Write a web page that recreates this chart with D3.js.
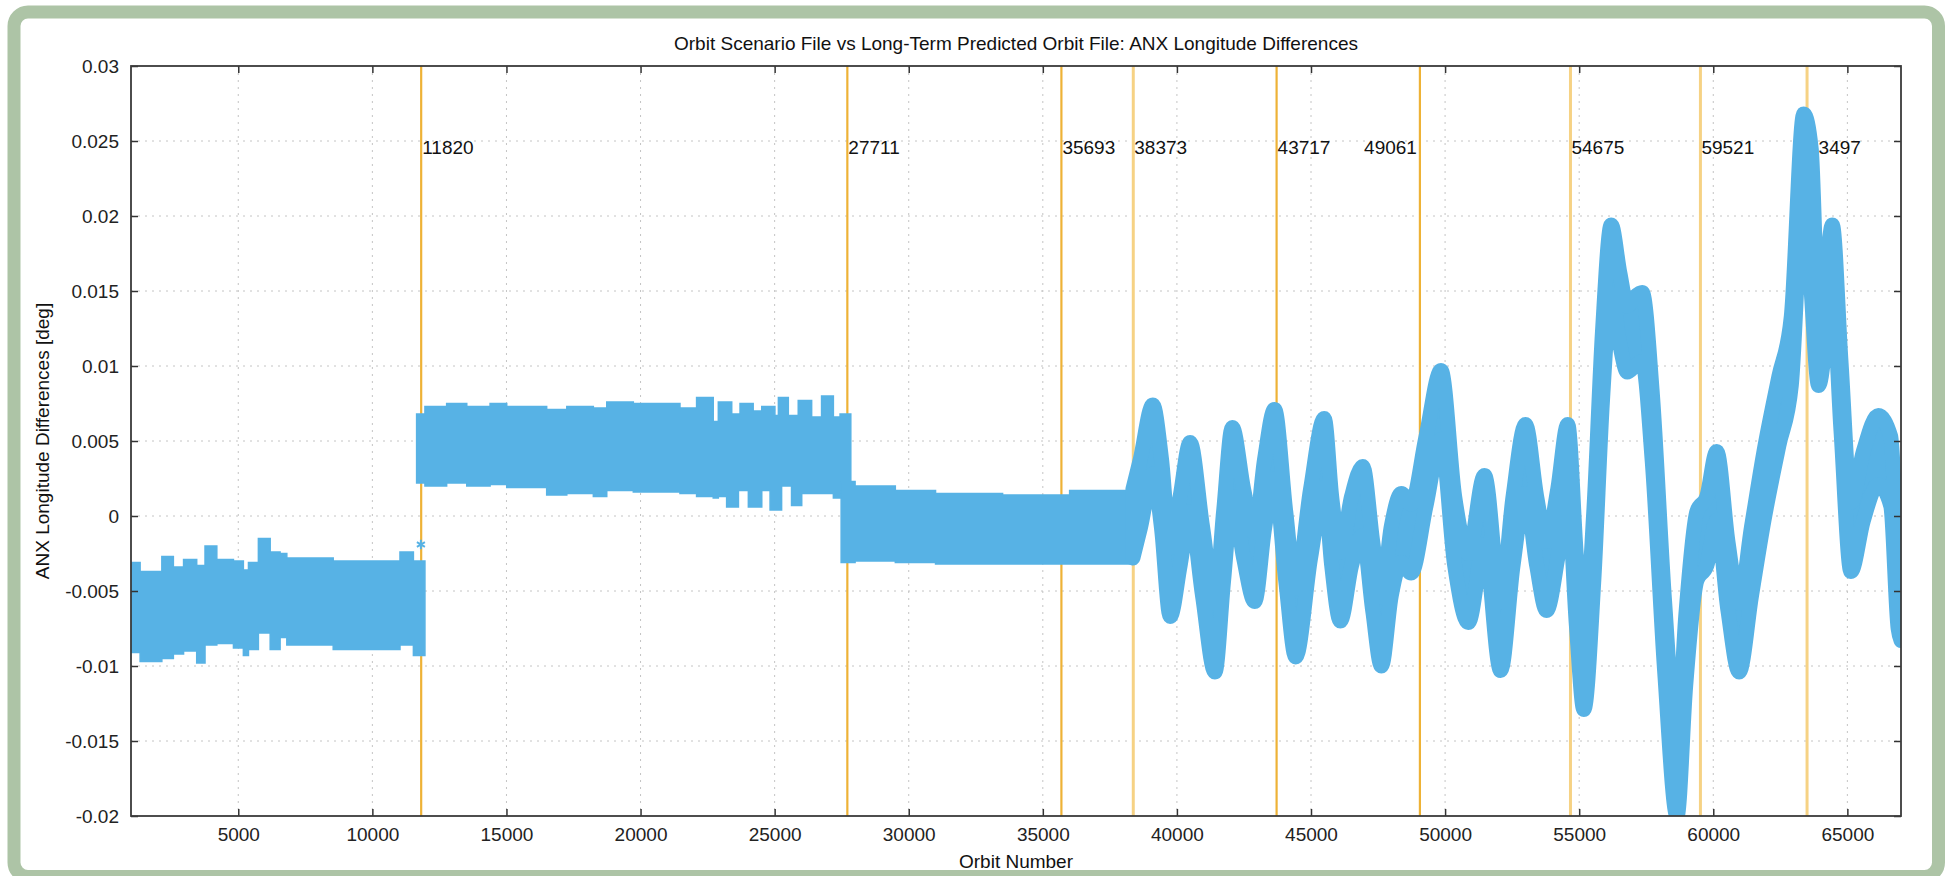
<!DOCTYPE html>
<html>
<head>
<meta charset="utf-8">
<script src="https://cdn.jsdelivr.net/npm/d3@7"></script>
<style>
  body { margin: 0; background: #fff; }
  svg { display: block; font-family: "Liberation Sans", Arial, Helvetica, sans-serif; }
</style>
</head>
<body>
<div id="chart"></div>
<script>
const width = 1948, height = 876;
const margin = { left: 131, right: 47, top: 66, bottom: 60 };

// axis ticks
const xTicks = [5000, 10000, 15000, 20000, 25000, 30000, 35000, 40000, 45000, 50000, 55000, 60000, 65000];
const yTicks = [-0.02, -0.015, -0.01, -0.005, 0, 0.005, 0.01, 0.015, 0.02, 0.025, 0.03];

// event lines (orbit numbers) and their labels
const eventOrbits = [11820, 27711, 35693, 38373, 43717, 49061, 54675, 59521, 63497];
const eventLabels = ['11820', '27711', '35693', '38373', '43717', '49061', '54675', '59521', '63497'];

// band envelope, first period (step edges)
const orbit1 = [1000, 1340, 2150, 2580, 2960, 3450, 3760, 4200, 4820, 5190, 5380, 5750, 6190, 6560, 6810, 8540, 11030, 11530, 11960];
const upper1 = [-0.0031, -0.0037, -0.0027, -0.0034, -0.0029, -0.0033, -0.0020, -0.0029, -0.0030, -0.0036, -0.0031, -0.0015, -0.0024, -0.0025, -0.0028, -0.0030, -0.0024, -0.0030, -0.0030];
const lower1 = [-0.0091, -0.0097, -0.0095, -0.0092, -0.0090, -0.0098, -0.0086, -0.0085, -0.0088, -0.0093, -0.0089, -0.0078, -0.0089, -0.0081, -0.0086, -0.0089, -0.0086, -0.0093, -0.0093];

// second period
const orbit2 = [11650, 11960, 12770, 13520, 14390, 15010, 16500, 17250, 18240, 18740, 19730, 21470, 22090, 22710, 22900, 23210, 23400, 23650, 23710, 24020, 24200, 24520, 24830, 25010, 25140, 25260, 25510, 25630, 25880, 26010, 26380, 26750, 27190, 27440, 27840];
const upper2 = [0.0068, 0.0073, 0.0075, 0.0073, 0.0075, 0.0073, 0.0071, 0.0073, 0.0072, 0.0076, 0.0075, 0.0072, 0.0079, 0.0063, 0.0076, 0.0076, 0.0068, 0.0068, 0.0075, 0.0075, 0.0070, 0.0073, 0.0073, 0.0067, 0.0079, 0.0079, 0.0067, 0.0067, 0.0077, 0.0077, 0.0066, 0.0080, 0.0066, 0.0068, 0.0068];
const lower2 = [0.0022, 0.0020, 0.0022, 0.0020, 0.0021, 0.0019, 0.0014, 0.0015, 0.0013, 0.0017, 0.0016, 0.0015, 0.0013, 0.0012, 0.0013, 0.0006, 0.0006, 0.0017, 0.0017, 0.0006, 0.0006, 0.0017, 0.0004, 0.0004, 0.0004, 0.0020, 0.0020, 0.0007, 0.0007, 0.0015, 0.0015, 0.0015, 0.0012, 0.0012, 0.0012];

// third period
const orbit3 = [27480, 28000, 29500, 31000, 33500, 36000, 38450];
const upper3 = [0.0023, 0.0020, 0.0017, 0.0015, 0.0014, 0.0017, 0.0017];
const lower3 = [-0.0031, -0.0030, -0.0031, -0.0032, -0.0032, -0.0032, -0.0030];

// oscillating period
const orbit4 = [38360, 38638, 39101, 39425, 39749, 40120, 40491, 40954, 41417, 41741, 42065, 42486, 42899, 43270, 43640, 44057, 44428, 44984, 45493, 45771, 46095, 46512, 46929, 47300, 47624, 47994, 48365, 48736, 49291, 49847, 50357, 50866, 51468, 52071, 52534, 52997, 53414, 53784, 54201, 54572, 54896, 55174, 55545, 55869, 56193, 56517, 56795, 57073, 57351, 57722, 58185, 58648, 58972, 59389, 59760, 60130, 60547, 60964, 61427, 61890, 62446, 62909, 63373, 63651, 63928, 64206, 64438, 64762, 65133, 65596, 66152, 66615, 66893, 67000];
const upper4 = [0.0018, 0.0038, 0.0074, 0.0038, -0.0021, 0.0013, 0.0049, -0.0007, -0.0058, 0.0003, 0.0059, 0.0018, -0.0011, 0.0038, 0.0071, 0.0003, -0.0048, 0.0018, 0.0065, 0.0013, -0.0024, 0.0013, 0.0033, -0.0017, -0.0054, -0.0007, 0.0015, 0.0008, 0.0053, 0.0097, 0.0013, -0.0025, 0.0027, -0.0057, 0.0013, 0.0061, 0.0013, -0.0017, 0.0018, 0.0061, -0.0027, -0.0083, 0.0003, 0.0123, 0.0194, 0.0162, 0.0140, 0.0146, 0.0149, 0.0083, -0.0057, -0.0154, -0.0067, 0.0003, 0.0013, 0.0043, -0.0017, -0.0058, -0.0007, 0.0043, 0.0093, 0.0133, 0.0268, 0.0245, 0.0133, 0.0163, 0.0194, 0.0103, 0.0009, 0.0043, 0.0067, 0.0053, -0.0029, -0.0037];
const lower4 = [-0.0028, -0.0008, 0.0028, -0.0008, -0.0067, -0.0033, 0.0003, -0.0053, -0.0104, -0.0043, 0.0013, -0.0028, -0.0057, -0.0008, 0.0025, -0.0043, -0.0094, -0.0028, 0.0019, -0.0033, -0.0070, -0.0033, -0.0013, -0.0063, -0.0100, -0.0053, -0.0031, -0.0038, 0.0007, 0.0051, -0.0033, -0.0071, -0.0019, -0.0103, -0.0033, 0.0015, -0.0033, -0.0063, -0.0028, 0.0015, -0.0073, -0.0129, -0.0043, 0.0077, 0.0148, 0.0114, 0.0096, 0.0100, 0.0103, 0.0037, -0.0103, -0.0200, -0.0113, -0.0043, -0.0033, -0.0003, -0.0063, -0.0104, -0.0053, -0.0003, 0.0047, 0.0087, 0.0222, 0.0150, 0.0087, 0.0117, 0.0148, 0.0057, -0.0037, -0.0003, 0.0021, 0.0007, -0.0075, -0.0083];

// single isolated point near the first event
const outlierOrbit = [11810];
const outlierValue = [-0.0019];

const svg = d3.select('#chart')
  .append('svg')
  .attr('width', width)
  .attr('height', height);

// green frame
svg.append('rect')
  .attr('x', 14).attr('y', 12)
  .attr('width', 1924.5).attr('height', 864.5)
  .attr('rx', 14)
  .attr('fill', '#fff')
  .attr('stroke', '#adc4a6')
  .attr('stroke-width', 13);

const innerW = width - margin.left - margin.right;

let x = d3.scaleLinear()
  .domain([1000, 67000])
  .range([margin.left, margin.left + innerW]);

let y = d3.scaleLinear()
  .domain([-0.02, 0.03])
  .range([margin.top + 750, margin.top]);

const x0 = x.range()[0], x1 = x.range()[1];
const y0 = y.range()[1], y1 = y.range()[0];

svg.append('clipPath').attr('id', 'plot')
  .append('rect')
  .attr('x', x0).attr('y', y0)
  .attr('width', x1 - x0).attr('height', y1 - y0);

// grid
let grid = svg.append('g')
  .attr('stroke', '#c4c4c4')
  .attr('stroke-width', 1)
  .attr('stroke-dasharray', '2,5');

grid.selectAll('.gx').data(xTicks).enter()
  .append('line')
  .attr('x1', d => x(d)).attr('x2', d => x(d))
  .attr('y1', y0).attr('y2', y1);

grid.selectAll('.gy').data(yTicks.slice(1, -1)).enter()
  .append('line')
  .attr('x1', x0).attr('x2', x1)
  .attr('y1', d => y(d)).attr('y2', d => y(d));

// event lines
const lightEvents = ['38373', '54675', '59521', '63497'];
svg.append('g').selectAll('line').data(eventOrbits).enter()
  .append('line')
  .attr('x1', d => x(d)).attr('x2', d => x(d))
  .attr('y1', y0).attr('y2', y1)
  .attr('stroke', (d, i) => lightEvents.includes(eventLabels[i]) ? '#f6d284' : '#eeb236')
  .attr('stroke-width', (d, i) => lightEvents.includes(eventLabels[i]) ? 3 : 2.2);

svg.append('g').selectAll('text').data(eventOrbits).enter()
  .append('text')
  .attr('x', (d, i) => eventLabels[i] === '49061' ? x(d) - 3 : x(d) + 1)
  .attr('y', y(0.025) + 13)
  .style('text-anchor', (d, i) => eventLabels[i] === '49061' ? 'end' : 'start')
  .style('font-size', '19px')
  .attr('fill', '#111')
  .text((d, i) => eventLabels[i]);

// data band
const blue = '#57b2e5';
let band = svg.append('g').attr('clip-path', 'url(#plot)');

function rows(o, hi, lo) {
  return o.map((d, i) => ({ o: d, hi: hi[i], lo: lo[i] }));
}

let stepArea = d3.area()
  .x(d => x(d.o))
  .y0(d => y(d.lo))
  .y1(d => y(d.hi))
  .curve(d3.curveStepAfter);

let smoothArea = d3.area()
  .x(d => x(d.o))
  .y0(d => y(d.lo))
  .y1(d => y(d.hi))
  .curve(d3.curveMonotoneX);

[rows(orbit1, upper1, lower1), rows(orbit2, upper2, lower2), rows(orbit3, upper3, lower3)].forEach(r => {
  band.append('path')
    .attr('d', stepArea(r))
    .attr('fill', blue)
    .attr('stroke', blue)
    .attr('stroke-width', 1.5);
});

band.append('path')
  .attr('d', smoothArea(rows(orbit4, upper4, lower4)))
  .attr('fill', blue)
  .attr('stroke', blue)
  .attr('stroke-width', 15)
  .attr('stroke-linejoin', 'round');

band.selectAll('.out').data(outlierOrbit).enter()
  .append('path')
  .attr('transform', (d, i) => `translate(${x(d)}, ${y(outlierValue[i])})`)
  .attr('d', d3.symbol(d3.symbolAsterisk, 60)())
  .attr('stroke', blue)
  .attr('stroke-width', 2);

// axes
const fmt = d => String(+d.toFixed(3));

function styleAxis(g) {
  g.select('.domain').remove();
  g.selectAll('.tick line').attr('stroke', '#333').attr('stroke-width', 1.5);
  g.selectAll('.tick text').attr('fill', '#222').style('font-size', '19px');
}

svg.append('g')
  .attr('transform', `translate(0, ${y1})`)
  .call(d3.axisBottom(x).tickValues(xTicks).tickSize(-7).tickPadding(12).tickFormat(d3.format('d')))
  .call(styleAxis);

svg.append('g')
  .attr('transform', `translate(0, ${y0})`)
  .call(d3.axisTop(x).tickValues(xTicks).tickSize(-7).tickFormat(''))
  .call(styleAxis);

svg.append('g')
  .attr('transform', `translate(${x0}, 0)`)
  .call(d3.axisLeft(y).tickValues(yTicks).tickSize(-7).tickPadding(12).tickFormat(fmt))
  .call(styleAxis);

svg.append('g')
  .attr('transform', `translate(${x1}, 0)`)
  .call(d3.axisRight(y).tickValues(yTicks).tickSize(-7).tickFormat(''))
  .call(styleAxis);

// frame box
svg.append('rect')
  .attr('x', x0).attr('y', y0)
  .attr('width', x1 - x0).attr('height', y1 - y0)
  .attr('fill', 'none')
  .attr('stroke', '#3a3a3a')
  .attr('stroke-width', 1.8);

// titles
svg.append('text')
  .attr('x', (x0 + x1) / 2)
  .attr('y', 50)
  .style('text-anchor', 'middle')
  .style('font-size', '19px')
  .attr('fill', '#111')
  .text('Orbit Scenario File vs Long-Term Predicted Orbit File: ANX Longitude Differences');

svg.append('text')
  .attr('x', (x0 + x1) / 2)
  .attr('y', 868)
  .style('text-anchor', 'middle')
  .style('font-size', '19px')
  .attr('fill', '#111')
  .text('Orbit Number');

svg.append('text')
  .attr('transform', `translate(49, ${(y0 + y1) / 2}) rotate(-90)`)
  .style('text-anchor', 'middle')
  .style('font-size', '19px')
  .attr('fill', '#111')
  .text('ANX Longitude Differences [deg]');
</script>
</body>
</html>
